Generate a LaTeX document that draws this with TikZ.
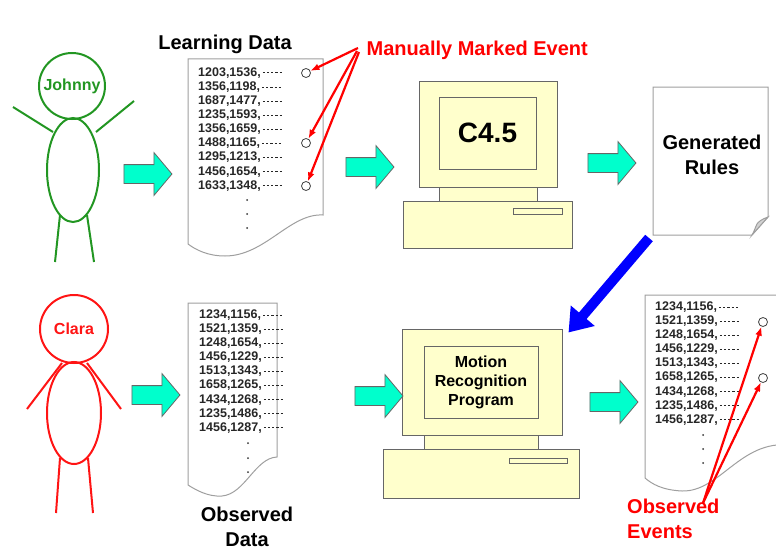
\documentclass[tikz,border=0pt]{standalone}
\usepackage{fontspec}
\setmainfont{Liberation Sans}
\usetikzlibrary{shapes.geometric,shapes.arrows,arrows.meta,calc}
\definecolor{flowcyan}{RGB}{0,255,204}
\definecolor{pcyellow}{RGB}{255,255,204}
\definecolor{johnnygreen}{RGB}{34,150,34}
\definecolor{claradred}{RGB}{255,20,20}
% dotted tail after each record
\newcommand{\datatail}{\hspace{1pt}\hbox to 21pt{\xleaders\hbox to 4.2pt{\hss\rule[3pt]{2.2pt}{0.9pt}\hss}\hfill}}
% one column of records: #1 name prefix, #2 x, #3 y of first row, #4 rows
\newcommand{\datacolumn}[4]{%
  \foreach \a/\b [count=\i] in {#4}
    \node[dataline] (#1\i) at (#2,{#3+14.1*(\i-1)}) {\a,\b,\datatail};}
\tikzset{
  dataline/.style={anchor=west,inner sep=0pt,font=\fontsize{12.5}{14}\selectfont\bfseries,text=black!85},
  paper/.style={draw=gray!75,line width=1,fill=white},
  head/.style={circle,line width=2,minimum size=#1,inner sep=0pt,font=\fontsize{16}{18}\selectfont\bfseries},
  body/.style={ellipse,line width=2,inner sep=0pt},
  limb/.style={line width=2},
  flowarrow/.style={single arrow,draw=gray!80!black,fill=flowcyan,line width=0.8,
    text height=9pt,text depth=9pt,text width=0pt,minimum height=48,
    single arrow head extend=12,single arrow tip angle=100,inner sep=0pt},
  pcpart/.style={rectangle,draw=gray!80!black,fill=pcyellow,line width=1,inner sep=0pt},
  eventmark/.style={circle,draw=black!75,fill=white,line width=0.8,minimum size=9,inner sep=0pt},
  redpointer/.style={draw=red,line width=2.2,-{Latex[length=9pt,width=7pt]}},
  bluepointer/.style={draw=blue,line width=10,-{Triangle[length=22pt,width=30pt]}},
  caption/.style={font=\fontsize{20}{25}\selectfont\bfseries,align=center,inner sep=0pt},
}

\begin{document}
\begin{tikzpicture}[x=1pt,y=-1pt]
  \useasboundingbox (0,0) rectangle (776,551);

  % Johnny
  \begin{scope}[draw=johnnygreen,text=johnnygreen]
    \node[head=66,draw] (johnny) at (72,86) {Johnny};
    \node[body,draw,minimum width=52,minimum height=104] (jbody) at (73,170) {};
    \draw[limb] (13,107) -- (53,132);
    \draw[limb] (134,101) -- (96,132);
    \draw[limb] (60,215) -- (55,262);
    \draw[limb] (87,215) -- (94,262);
  \end{scope}

  % Clara
  \begin{scope}[draw=claradred,text=claradred]
    \node[head=68,draw] (clara) at (74,329) {Clara};
    \node[body,draw,minimum width=54,minimum height=102] (cbody) at (74,413) {};
    \draw[limb] (62,363) -- (27,409);
    \draw[limb] (87,363) -- (121,409);
    \draw[limb] (60,458) -- (56,513);
    \draw[limb] (88,458) -- (93,513);
  \end{scope}

  % learning data sheet
  \node[caption] (ldlabel) at (225,44) {Learning Data};
  \draw[paper] (188,59) -- (323,59) -- (323,215)
    .. controls (290,213) and (265,256) .. (225,256)
    .. controls (208,256) and (196,250) .. (188,244) -- cycle;
  \datacolumn{ld}{198}{73}{1203/1536,1356/1198,1687/1477,1235/1593,1356/1659,
    1488/1165,1295/1213,1456/1654,1633/1348}
  \foreach \d in {200,214,228} \fill[black!80] (247,\d) circle[radius=1];
  \node[eventmark] (m1) at (306,73) {};
  \node[eventmark] (m2) at (306,143) {};
  \node[eventmark] (m3) at (306,186) {};
  \node[caption,anchor=west,text=red,inner sep=6.5pt] (mme) at (360,50) {Manually Marked Event};
  \draw[redpointer] ($(mme.west)+(-2,-2)$) -- (m1);
  \draw[redpointer] ($(mme.west)+(-3,1)$) -- (m2);
  \draw[redpointer] ($(mme.west)+(-1,2)$) -- (m3);

  % C4.5 machine
  \node[pcpart,minimum width=169,minimum height=47] (c45base) at (487.5,224.5) {};
  \node[pcpart,minimum width=49,minimum height=6] (c45slot) at (537.5,211) {};
  \node[pcpart,minimum width=98,minimum height=14] (c45neck) at (488,194) {};
  \node[pcpart,minimum width=138,minimum height=106] (c45mon) at (488,134) {};
  \node[pcpart,minimum width=97,minimum height=72,font=\fontsize{28}{30}\selectfont\bfseries]
    (c45scr) at (487.5,133) {C4.5};

  % rules sheet
  \draw[paper] (653,87) -- (768,87) -- (768,217) -- (752,235) -- (653,235) -- cycle;
  \draw[paper,fill=gray!35] (768,217) .. controls (762,219) and (758,222) .. (757,224)
    .. controls (755,228) and (754,232) .. (752,235) -- cycle;
  \node[caption] (rules) at (712,155) {Generated\\Rules};

  % observed data sheet
  \draw[paper] (188,303) -- (277,303) -- (277,457)
    .. controls (255,458) and (245,494) .. (222,496)
    .. controls (208,497) and (196,490) .. (188,485) -- cycle;
  \datacolumn{od}{199}{315}{1234/1156,1521/1359,1248/1654,1456/1229,1513/1343,
    1658/1265,1434/1268,1235/1486,1456/1287}
  \foreach \d in {443,458,472} \fill[black!80] (248,\d) circle[radius=1];
  \node[caption] (odlabel) at (247,527) {Observed\\Data};

  % recognition machine
  \node[pcpart,minimum width=196,minimum height=49] (mrpbase) at (481,473.5) {};
  \node[pcpart,minimum width=58,minimum height=5] (mrpslot) at (538,460.5) {};
  \node[pcpart,minimum width=114,minimum height=14] (mrpneck) at (481,442) {};
  \node[pcpart,minimum width=160,minimum height=106] (mrpmon) at (482,382) {};
  \node[pcpart,minimum width=114,minimum height=72,align=center,
    font=\fontsize{16}{19}\selectfont\bfseries] (mrpscr) at (481,382) {Motion\\Recognition\\Program};

  % detected events sheet
  \draw[paper] (645,295) -- (790,295) -- (790,445)
    .. controls (740,440) and (720,492) .. (682,491)
    .. controls (662,490) and (652,484) .. (645,478) -- cycle;
  \datacolumn{oe}{655}{307}{1234/1156,1521/1359,1248/1654,1456/1229,1513/1343,
    1658/1265,1434/1268,1235/1486,1456/1287}
  \foreach \d in {435,449,463} \fill[black!80] (703,\d) circle[radius=1];
  \node[eventmark] (o2) at (763,322) {};
  \node[eventmark] (o6) at (763,378) {};
  \node[caption,align=left,anchor=west,text=red] (oev) at (627,519) {Observed\\Events};
  \coordinate (evsrc) at (703,503);
  \draw[redpointer] (evsrc) -- (o2);
  \draw[redpointer] (evsrc) -- (o6);

  % flow
  \node[flowarrow] (fa1) at (144,174) {};
  \node[flowarrow] (fa2) at (366,167) {};
  \node[flowarrow] (fa3) at (608,163) {};
  \node[flowarrow] (fb1) at (152,395) {};
  \node[flowarrow] (fb2) at (375,396) {};
  \node[flowarrow] (fb3) at (610,402) {};
  \coordinate (rulesfoot) at (649,238);
  \draw[bluepointer] (rulesfoot) -- ($(mrpmon.north east)+(6,4)$);
\end{tikzpicture}
\end{document}
